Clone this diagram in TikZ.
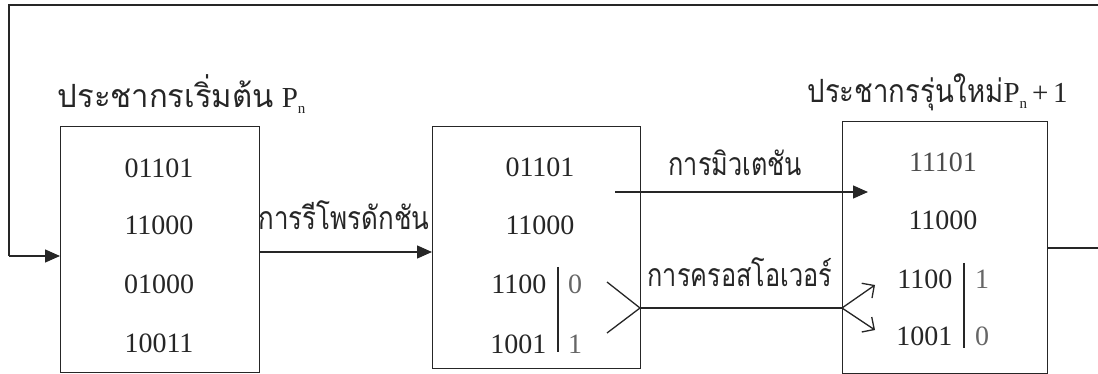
\documentclass[tikz,border=0pt]{standalone}
\usepackage{fontspec}
\setmainfont{Liberation Serif}
\newfontfamily\thaifont[Script=Thai]{Loma}
\usetikzlibrary{arrows.meta}
\newcommand{\sxth}[2]{\scalebox{#1}[1]{\thaifont #2}}
\newcommand{\subn}{\raisebox{-6pt}{\fontsize{15}{15}\selectfont n}}
\begin{document}
\begin{tikzpicture}[x=1pt,y=-1pt,line width=1.3pt,
  every node/.style={text=black!85},
  box/.style={draw=black!85,line width=1.3pt,inner sep=0pt},
  num/.style={inner sep=0pt,anchor=base,font=\fontsize{28}{28}\selectfont},
  numr/.style={num,anchor=base east},
  lbl/.style={inner sep=0pt,anchor=base west,font=\fontsize{32}{36}\selectfont},
  ln/.style={draw=black!85,line width=1.3pt},
  tri/.style={-{Triangle[length=15pt,width=13pt]}},
  barb/.style={-{Straight Barb[length=9pt,width=18pt,line width=1.3pt]}}]
\useasboundingbox (0,0) rectangle (1098,374);
\fill[white] (0,0) rectangle (1098,374);
% boxes
\node[box,minimum width=199pt,minimum height=246pt,anchor=north west] (b1) at (60,126) {};
\node[box,minimum width=208pt,minimum height=242pt,anchor=north west] (b2) at (432,126) {};
\node[box,minimum width=205pt,minimum height=252pt,anchor=north west] (b3) at (842,121) {};
% titles
\node[lbl] (t1) at (57,108) {\sxth{0.97}{ประชากรเริ่มต้น} {\fontsize{29}{30}\selectfont P\subn}};
\node[lbl] (t3) at (807,103) {\sxth{0.86}{ประชากรรุ่นใหม่}{\fontsize{29}{30}\selectfont P\subn\,+\,1}};
% box 1 numbers
\node[num] (a1) at (159,178) {01101};
\node[num] (a2) at (159,235) {11000};
\node[num] (a3) at (159,293) {01000};
\node[num] (a4) at (159,352) {10011};
% box 2 numbers
\node[num] (c1) at (540,177) {01101};
\node[num] (c2) at (540,235) {11000};
\node[numr] (c3) at (547,293) {1100};
\node[numr] (c4) at (547,353) {1001};
\node[num,text=black!60] (c3b) at (575,293) {0};
\node[num,text=black!60] (c4b) at (575,353) {1};
\coordinate (s2a) at (558,267);
\coordinate (s2b) at (558,352);
\draw[ln] (s2a) -- (s2b);
% box 3 numbers
\node[num,text=black!70] (d1) at (943,172) {11101};
\node[num] (d2) at (943,230) {11000};
\node[numr] (d3) at (953,288) {1100};
\node[numr] (d4) at (953,345) {1001};
\node[num,text=black!60] (d3b) at (982,288) {1};
\node[num,text=black!60] (d4b) at (982,345) {0};
\coordinate (s3a) at (964,263);
\coordinate (s3b) at (964,348);
\draw[ln] (s3a) -- (s3b);
% reproduction
\node[lbl] (lr) at (258,230) {\sxth{0.81}{การรีโพรดักชัน}};
\draw[ln,tri] (b1.east |- 0,252) -- (b2.west |- 0,252);
% mutation
\node[lbl] (lm) at (668,176) {\sxth{0.79}{การมิวเตชัน}};
\coordinate (m0) at (615,192);
\coordinate (m1) at (868,192);
\draw[ln,tri] (m0) -- (m1);
% crossover
\node[lbl] (lc) at (647,287) {\sxth{0.79}{การครอสโอเวอร์}};
\coordinate (x1) at (607,282);
\coordinate (x2) at (607,333);
\coordinate (xj) at (640,308);
\coordinate (xk) at (842,308);
\coordinate (y1) at (875,285);
\coordinate (y2) at (875,330);
\draw[ln] (x1) -- (xj) -- (x2);
\draw[ln] (xj) -- (xk);
\draw[ln,barb] (xk) -- (y1);
\draw[ln,barb] (xk) -- (y2);
% feedback loop
\coordinate (r1) at (1101,248);
\coordinate (r2) at (1101,5);
\coordinate (l1) at (9,5);
\coordinate (l2) at (9,256);
\draw[ln] (b3.east |- 0,248) -- (r1) -- (r2) -- (l1) -- (l2);
\draw[ln,tri] (l2) -- (b1.west |- l2);
\end{tikzpicture}
\end{document}
